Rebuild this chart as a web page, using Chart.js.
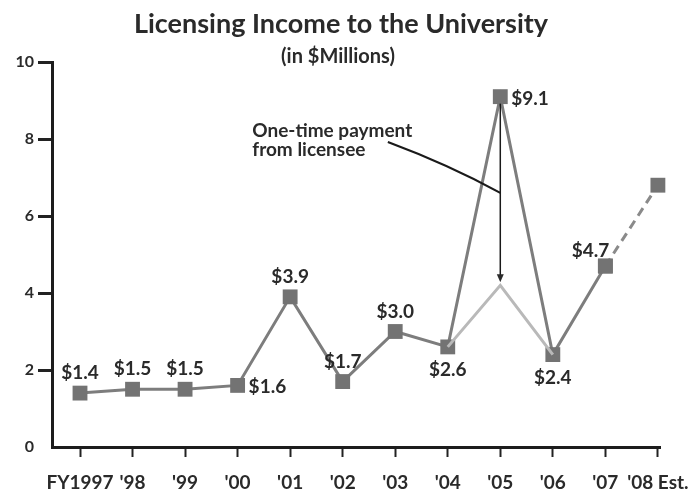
<!DOCTYPE html>
<html>
<head>
<meta charset="utf-8">
<script src="https://cdn.jsdelivr.net/npm/chart.js@4.4.1/dist/chart.umd.min.js"></script>
<style>
    body { margin: 0; background: #ffffff; }
    #wrap { width: 698px; height: 493px; position: relative; }
</style>
</head>
<body>
<div id="wrap"><canvas id="incomeChart"></canvas></div>
<script>
// fiscal years on the x axis
const yearLabels = ["FY1997", "'98", "'99", "'00", "'01", "'02", "'03", "'04", "'05", "'06", "'07", "'08 Est."];

// licensing income, $ millions
const incomeValues = [1.4, 1.5, 1.5, 1.6, 3.9, 1.7, 3.0, 2.6, 9.1, 2.4, 4.7, null];

// '05 without the one-time payment
const adjustedValues = [null, null, null, null, null, null, null, 2.6, 4.2, 2.4, null, null];

// '08 estimate (dashed)
const estimateValues = [null, null, null, null, null, null, null, null, null, null, 4.7, 6.8];

const yTicks = [0, 2, 4, 6, 8, 10];

// where each value label sits relative to its marker
const labelPlacement = ["top", "top", "top", "right", "top", "top", "top", "bottom", "right", "bottom", "topleft", null];

const noteLines = ["One-time payment", "from licensee"];

const textColor = "#2a2a2a";

const drawExtras = {
    id: "drawExtras",
    afterDraw(chart) {
        const ctx = chart.ctx;
        const x = chart.scales.x;
        const y = chart.scales.y;

        ctx.save();
        ctx.fillStyle = textColor;

        // title
        ctx.textAlign = "center";
        ctx.textBaseline = "alphabetic";
        ctx.font = "700 27px Lato";
        ctx.fillText("Licensing Income to the University", 341, 33);
        ctx.font = "700 20px Lato";
        ctx.fillText("(in $Millions)", 338, 63);

        // value labels
        ctx.font = "700 19px Lato";
        incomeValues.forEach((v, i) => {
            const pos = labelPlacement[i];
            if (v === null || !pos) return;
            const px = x.getPixelForValue(i);
            const py = y.getPixelForValue(v);
            const text = "$" + v.toFixed(1);
            if (pos === "top") {
                ctx.textAlign = "center";
                ctx.fillText(text, px, py - 14);
            } else if (pos === "bottom") {
                ctx.textAlign = "center";
                ctx.fillText(text, px, py + 29);
            } else if (pos === "right") {
                ctx.textAlign = "left";
                ctx.fillText(text, px + 11, py + 8);
            } else if (pos === "topleft") {
                ctx.textAlign = "right";
                ctx.fillText(text, px + 4, py - 9);
            }
        });

        // note text
        ctx.textAlign = "left";
        ctx.font = "700 19px Lato";
        const noteX = x.getPixelForValue(3.28);
        const noteY = y.getPixelForValue(8.05);
        noteLines.forEach((line, k) => ctx.fillText(line, noteX, noteY + k * 19));

        // arrow from the '05 peak down to the adjusted value
        const ax = x.getPixelForValue(8);
        const top = y.getPixelForValue(incomeValues[8]) + 7;
        const tip = y.getPixelForValue(adjustedValues[8]) - 3;
        ctx.strokeStyle = "#1a1a1a";
        ctx.lineWidth = 1.5;
        ctx.beginPath();
        ctx.moveTo(ax, top);
        ctx.lineTo(ax, tip - 5);
        ctx.stroke();
        ctx.beginPath();
        ctx.moveTo(ax, tip);
        ctx.lineTo(ax - 3.5, tip - 8);
        ctx.lineTo(ax + 3.5, tip - 8);
        ctx.closePath();
        ctx.fill();

        // leader from the note to the arrow
        const sx = x.getPixelForValue(5.86);
        const sy = y.getPixelForValue(7.92);
        const ey = y.getPixelForValue(6.6);
        ctx.lineWidth = 2.2;
        ctx.beginPath();
        ctx.moveTo(sx, sy);
        ctx.quadraticCurveTo((sx + ax) / 2 + 4, (sy + ey) / 2 - 3, ax, ey);
        ctx.stroke();

        ctx.restore();
    }
};

const canvas = document.getElementById("incomeChart");

new Chart(canvas, {

    type: "line",

    data: {

        datasets: [

            {
                label: "Adjusted",
                data: adjustedValues.map((v, i) => ({ x: i, y: v })),
                borderColor: "#b9b9b9",
                borderWidth: 3,
                pointRadius: 0,
                tension: 0,
                clip: false
            },

            {
                label: "Estimate",
                data: estimateValues.map((v, i) => ({ x: i, y: v })),
                borderColor: "#8a8a8a",
                borderWidth: 3,
                borderDash: [9, 6],
                pointStyle: "rect",
                pointRadius: 10.5,
                pointBorderWidth: 0,
                pointBackgroundColor: "#737373",
                tension: 0,
                clip: false
            },

            {
                label: "Licensing income",
                data: incomeValues.map((v, i) => ({ x: i, y: v })),
                borderColor: "#7d7d7d",
                borderWidth: 3,
                pointStyle: "rect",
                pointRadius: 10.5,
                pointBorderWidth: 0,
                pointBackgroundColor: "#737373",
                tension: 0,
                clip: false
            }

        ]

    },

    options: {

        responsive: true,

        maintainAspectRatio: false,

        animation: false,

        layout: {
            padding: { top: 62, right: 38, bottom: 0, left: 0 }
        },

        plugins: {
            legend: { display: false },
            tooltip: { enabled: false }
        },

        scales: {

            x: {
                type: "linear",
                min: -0.533,
                max: 11.04,
                afterBuildTicks: (scale) => {
                    scale.ticks = yearLabels.map((_, i) => ({ value: i }));
                },
                afterFit: (scale) => {
                    scale.height = 46;
                    scale.paddingLeft = 0;
                    scale.paddingRight = 0;
                },
                ticks: {
                    callback: (value) => yearLabels[value],
                    font: { family: "Lato", size: 19, weight: "700" },
                    color: textColor,
                    padding: 14,
                    maxRotation: 0,
                    autoSkip: false
                },
                grid: {
                    drawOnChartArea: false,
                    tickLength: 10,
                    tickWidth: 2,
                    tickColor: "#222"
                },
                border: {
                    display: true,
                    width: 3,
                    color: "#1c1c1c"
                }
            },

            y: {
                min: 0,
                max: 10,
                afterBuildTicks: (scale) => {
                    scale.ticks = yTicks.map(v => ({ value: v }));
                },
                afterFit: (scale) => {
                    scale.width = 52;
                    scale.paddingTop = 0;
                    scale.paddingBottom = 0;
                },
                ticks: {
                    font: { family: "Lato", size: 16, weight: "700" },
                    color: textColor,
                    padding: 4
                },
                grid: {
                    drawOnChartArea: false,
                    tickLength: 14,
                    tickWidth: 3,
                    tickColor: (ctx) => ctx.tick && ctx.tick.value === 0 ? "rgba(0,0,0,0)" : "#222"
                },
                border: {
                    display: true,
                    width: 3,
                    color: "#1c1c1c"
                }
            }

        }

    },

    plugins: [drawExtras]

});
</script>
</body>
</html>
